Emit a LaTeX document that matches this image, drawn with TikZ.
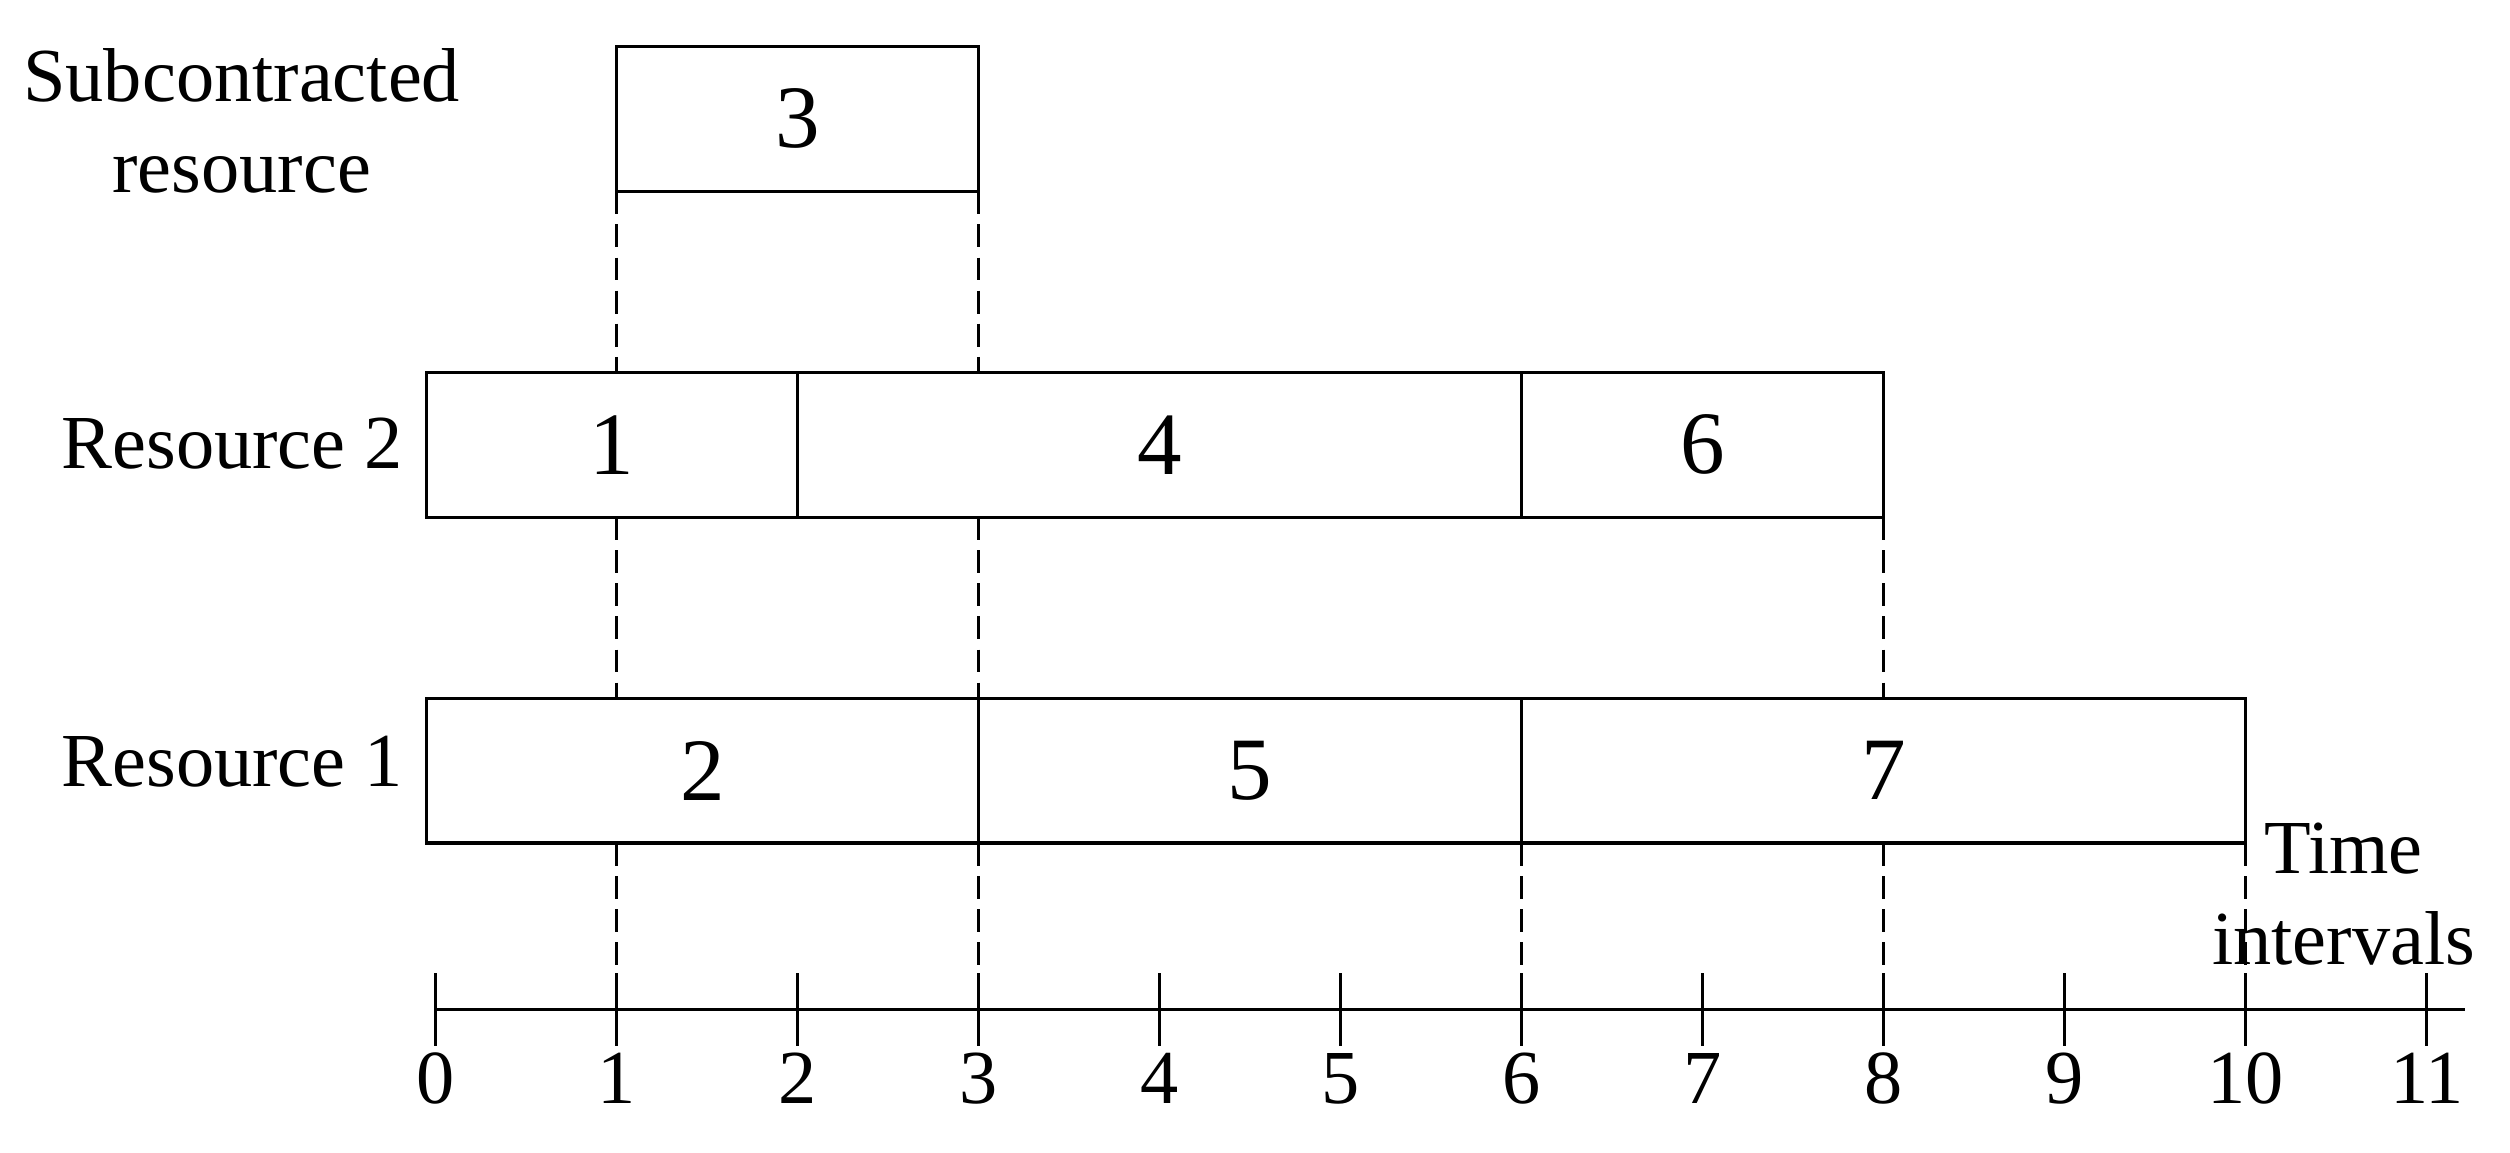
\documentclass[tikz,border=0pt]{standalone}
\usepackage{fontspec}
\setmainfont{Liberation Serif}
\begin{document}
\begin{tikzpicture}[line width=0.5pt,
    job/.style={draw, rectangle, minimum height=0.8cm, inner sep=0pt, outer sep=0pt, font=\fontsize{14}{16}\selectfont},
    guide/.style={dash pattern=on 3.6pt off 1.6pt},
    lbl/.style={font=\fontsize{12}{14.3}\selectfont, inner sep=0pt}]
  \useasboundingbox (-2.405,-0.789) rectangle (11.459,5.577);
  % Subcontracted resource
  \node[job, minimum width=2cm] (j3) at (2, 4.92) {3};
  \node[lbl, align=center] (sub) at (-1.07, 4.91) {Subcontracted\\resource};
  % Resource 2
  \node[job, minimum width=2.05cm] (j1) at (0.975, 3.12) {1};
  \node[job, minimum width=4cm] (j4) at (4, 3.12) {4};
  \node[job, minimum width=2cm] (j6) at (7, 3.12) {6};
  \node[lbl, anchor=base east] (r2) at (-0.17, 2.99) {Resource 2};
  % Resource 1
  \node[job, minimum width=3.05cm] (j2) at (1.475, 1.32) {2};
  \node[job, minimum width=3cm] (j5) at (4.5, 1.32) {5};
  \node[job, minimum width=4cm] (j7) at (8, 1.32) {7};
  \node[lbl, anchor=base east] (r1) at (-0.17, 1.23) {Resource 1};
  % Time axis
  \coordinate (o) at (0, 0);
  \draw (o) -- (11.21, 0);
  \foreach \x in {0,...,11}
    \draw (\x, -0.2) -- (\x, 0.2) node[lbl, anchor=base] (n\x) at (\x, -0.52) {\x};
  \node[lbl, align=center] (ti) at (10.54, 0.637) {Time\\intervals};
  % Guides
  \draw[guide] (j3.south west) -- (j1.north -| j3.south west);
  \draw[guide] (j3.south east) -- (j4.north -| j3.south east);
  \draw[guide] (j1.south -| j3.south west) -- (j2.north -| j3.south west);
  \draw[guide] (j4.south -| j5.north west) -- (j5.north west);
  \draw[guide] (j6.south east) -- (j7.north -| j6.south east);
  \draw[guide] (j2.south -| j3.south west) -- (o -| j3.south west);
  \draw[guide] (j5.south west) -- (o -| j5.south west);
  \draw[guide] (j7.south west) -- (o -| j7.south west);
  \draw[guide] (j7.south -| j6.south east) -- (o -| j6.south east);
  \draw[guide] (j7.south east) -- (o -| j7.south east);
\end{tikzpicture}
\end{document}
